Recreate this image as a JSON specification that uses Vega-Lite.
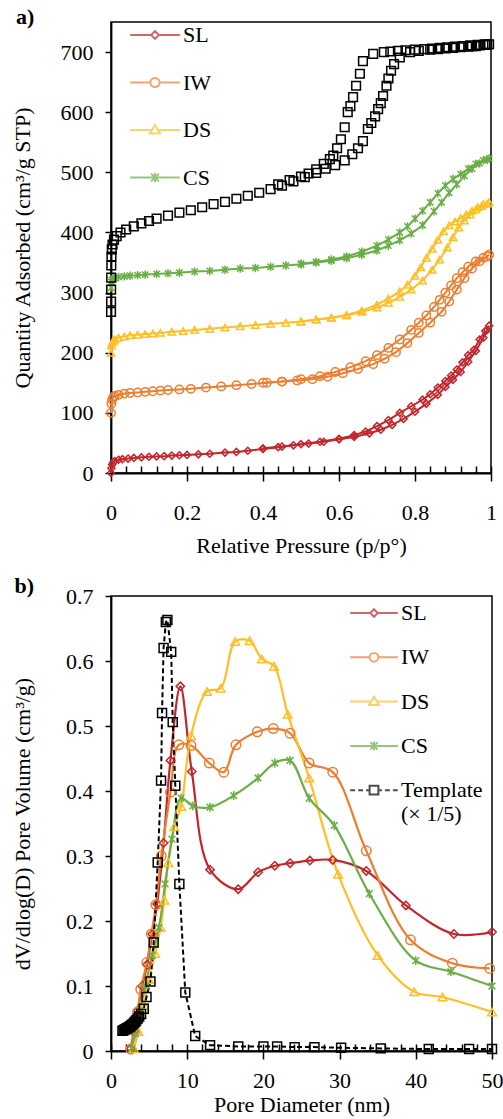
{
  "$schema": "https://vega.github.io/schema/vega-lite/v6.json",
  "background": "white",
  "padding": {"left": 10, "top": 5, "right": 5, "bottom": 2},
  "bounds": "flush",
  "spacing": 123,
  "config": {
    "font": "Liberation Serif",
    "view": {"stroke": "black", "strokeWidth": 1.5},
    "axis": {"domainColor": "black", "domainWidth": 1.8, "tickColor": "black", "tickWidth": 1.5, "labelColor": "black", "titleColor": "black", "labelFont": "Liberation Serif", "titleFont": "Liberation Serif", "labelFontSize": 22, "titleFontSize": 22, "titleFontWeight": "normal", "grid": false, "labelFlush": false},
    "legend": {"labelFont": "Liberation Serif", "labelFontSize": 22, "labelColor": "black", "padding": 0, "symbolStrokeWidth": 2, "labelOffset": 4, "symbolFillColor": "transparent"},
    "title": {"font": "Liberation Serif", "fontSize": 22, "fontWeight": "bold", "color": "black", "anchor": "start"}
  },
  "datasets": {
    "iso": [
      {"s":"SL","b":"a","p":0,"q":0},{"s":"SL","b":"a","p":0.001,"q":8},{"s":"SL","b":"a","p":0.003,"q":14},{"s":"SL","b":"a","p":0.006,"q":18},{"s":"SL","b":"a","p":0.01,"q":20},{"s":"SL","b":"a","p":0.02,"q":22},{"s":"SL","b":"a","p":0.03,"q":23},{"s":"SL","b":"a","p":0.045,"q":24},{"s":"SL","b":"a","p":0.06,"q":25},{"s":"SL","b":"a","p":0.08,"q":26},{"s":"SL","b":"a","p":0.1,"q":27},{"s":"SL","b":"a","p":0.12,"q":27.5},{"s":"SL","b":"a","p":0.14,"q":28},{"s":"SL","b":"a","p":0.16,"q":29},{"s":"SL","b":"a","p":0.18,"q":29.5},{"s":"SL","b":"a","p":0.2,"q":30},{"s":"SL","b":"a","p":0.23,"q":31},{"s":"SL","b":"a","p":0.26,"q":32},{"s":"SL","b":"a","p":0.3,"q":34},{"s":"SL","b":"a","p":0.33,"q":35},{"s":"SL","b":"a","p":0.36,"q":37},{"s":"SL","b":"a","p":0.4,"q":40},{"s":"SL","b":"a","p":0.44,"q":43},{"s":"SL","b":"a","p":0.48,"q":46},{"s":"SL","b":"a","p":0.52,"q":49},{"s":"SL","b":"a","p":0.56,"q":52},{"s":"SL","b":"a","p":0.6,"q":56},{"s":"SL","b":"a","p":0.64,"q":60},{"s":"SL","b":"a","p":0.68,"q":66},{"s":"SL","b":"a","p":0.71,"q":72},{"s":"SL","b":"a","p":0.74,"q":80},{"s":"SL","b":"a","p":0.77,"q":90},{"s":"SL","b":"a","p":0.8,"q":102},{"s":"SL","b":"a","p":0.83,"q":115},{"s":"SL","b":"a","p":0.86,"q":130},{"s":"SL","b":"a","p":0.88,"q":143},{"s":"SL","b":"a","p":0.9,"q":155},{"s":"SL","b":"a","p":0.92,"q":168},{"s":"SL","b":"a","p":0.94,"q":185},{"s":"SL","b":"a","p":0.96,"q":203},{"s":"SL","b":"a","p":0.98,"q":225},{"s":"SL","b":"a","p":0.99,"q":238},{"s":"SL","b":"a","p":0.995,"q":245},
      {"s":"SL","b":"d","p":0.985,"q":236},{"s":"SL","b":"d","p":0.97,"q":222},{"s":"SL","b":"d","p":0.955,"q":205},{"s":"SL","b":"d","p":0.94,"q":196},{"s":"SL","b":"d","p":0.925,"q":184},{"s":"SL","b":"d","p":0.91,"q":172},{"s":"SL","b":"d","p":0.895,"q":162},{"s":"SL","b":"d","p":0.88,"q":153},{"s":"SL","b":"d","p":0.86,"q":142},{"s":"SL","b":"d","p":0.84,"q":131},{"s":"SL","b":"d","p":0.82,"q":122},{"s":"SL","b":"d","p":0.79,"q":111},{"s":"SL","b":"d","p":0.76,"q":100},{"s":"SL","b":"d","p":0.73,"q":88},{"s":"SL","b":"d","p":0.7,"q":78},{"s":"SL","b":"d","p":0.67,"q":69},{"s":"SL","b":"d","p":0.64,"q":63},{"s":"SL","b":"d","p":0.6,"q":57},{"s":"SL","b":"d","p":0.55,"q":52},{"s":"SL","b":"d","p":0.5,"q":48},{"s":"SL","b":"d","p":0.45,"q":44},{"s":"SL","b":"d","p":0.4,"q":41},
      {"s":"IW","b":"a","p":0,"q":100},{"s":"IW","b":"a","p":0.001,"q":115},{"s":"IW","b":"a","p":0.003,"q":122},{"s":"IW","b":"a","p":0.006,"q":126},{"s":"IW","b":"a","p":0.01,"q":128},{"s":"IW","b":"a","p":0.02,"q":130},{"s":"IW","b":"a","p":0.035,"q":132},{"s":"IW","b":"a","p":0.05,"q":133},{"s":"IW","b":"a","p":0.07,"q":134},{"s":"IW","b":"a","p":0.09,"q":135},{"s":"IW","b":"a","p":0.11,"q":136},{"s":"IW","b":"a","p":0.13,"q":137},{"s":"IW","b":"a","p":0.15,"q":138},{"s":"IW","b":"a","p":0.18,"q":139},{"s":"IW","b":"a","p":0.21,"q":140},{"s":"IW","b":"a","p":0.25,"q":142},{"s":"IW","b":"a","p":0.29,"q":144},{"s":"IW","b":"a","p":0.33,"q":146},{"s":"IW","b":"a","p":0.37,"q":148},{"s":"IW","b":"a","p":0.41,"q":150},{"s":"IW","b":"a","p":0.45,"q":152},{"s":"IW","b":"a","p":0.49,"q":154},{"s":"IW","b":"a","p":0.53,"q":156},{"s":"IW","b":"a","p":0.57,"q":160},{"s":"IW","b":"a","p":0.61,"q":166},{"s":"IW","b":"a","p":0.65,"q":173},{"s":"IW","b":"a","p":0.69,"q":181},{"s":"IW","b":"a","p":0.72,"q":190},{"s":"IW","b":"a","p":0.75,"q":201},{"s":"IW","b":"a","p":0.78,"q":216},{"s":"IW","b":"a","p":0.81,"q":233},{"s":"IW","b":"a","p":0.84,"q":250},{"s":"IW","b":"a","p":0.87,"q":268},{"s":"IW","b":"a","p":0.89,"q":285},{"s":"IW","b":"a","p":0.91,"q":305},{"s":"IW","b":"a","p":0.93,"q":324},{"s":"IW","b":"a","p":0.95,"q":340},{"s":"IW","b":"a","p":0.97,"q":352},{"s":"IW","b":"a","p":0.99,"q":360},{"s":"IW","b":"a","p":0.995,"q":363},
      {"s":"IW","b":"d","p":0.98,"q":358},{"s":"IW","b":"d","p":0.96,"q":352},{"s":"IW","b":"d","p":0.94,"q":343},{"s":"IW","b":"d","p":0.925,"q":334},{"s":"IW","b":"d","p":0.91,"q":324},{"s":"IW","b":"d","p":0.895,"q":312},{"s":"IW","b":"d","p":0.88,"q":300},{"s":"IW","b":"d","p":0.865,"q":288},{"s":"IW","b":"d","p":0.85,"q":276},{"s":"IW","b":"d","p":0.83,"q":262},{"s":"IW","b":"d","p":0.81,"q":250},{"s":"IW","b":"d","p":0.79,"q":238},{"s":"IW","b":"d","p":0.76,"q":222},{"s":"IW","b":"d","p":0.73,"q":208},{"s":"IW","b":"d","p":0.7,"q":196},{"s":"IW","b":"d","p":0.67,"q":186},{"s":"IW","b":"d","p":0.63,"q":176},{"s":"IW","b":"d","p":0.59,"q":168},{"s":"IW","b":"d","p":0.55,"q":161},{"s":"IW","b":"d","p":0.5,"q":156},{"s":"IW","b":"d","p":0.45,"q":152},{"s":"IW","b":"d","p":0.4,"q":150},
      {"s":"DS","b":"a","p":0,"q":200},{"s":"DS","b":"a","p":0.001,"q":212},{"s":"DS","b":"a","p":0.003,"q":217},{"s":"DS","b":"a","p":0.006,"q":220},{"s":"DS","b":"a","p":0.01,"q":222},{"s":"DS","b":"a","p":0.02,"q":225},{"s":"DS","b":"a","p":0.035,"q":227},{"s":"DS","b":"a","p":0.05,"q":229},{"s":"DS","b":"a","p":0.07,"q":230},{"s":"DS","b":"a","p":0.09,"q":231},{"s":"DS","b":"a","p":0.11,"q":232},{"s":"DS","b":"a","p":0.13,"q":233},{"s":"DS","b":"a","p":0.16,"q":235},{"s":"DS","b":"a","p":0.19,"q":236},{"s":"DS","b":"a","p":0.22,"q":238},{"s":"DS","b":"a","p":0.26,"q":240},{"s":"DS","b":"a","p":0.3,"q":242},{"s":"DS","b":"a","p":0.34,"q":244},{"s":"DS","b":"a","p":0.38,"q":246},{"s":"DS","b":"a","p":0.42,"q":248},{"s":"DS","b":"a","p":0.46,"q":250},{"s":"DS","b":"a","p":0.5,"q":252},{"s":"DS","b":"a","p":0.54,"q":255},{"s":"DS","b":"a","p":0.58,"q":258},{"s":"DS","b":"a","p":0.62,"q":262},{"s":"DS","b":"a","p":0.66,"q":268},{"s":"DS","b":"a","p":0.7,"q":275},{"s":"DS","b":"a","p":0.73,"q":283},{"s":"DS","b":"a","p":0.76,"q":293},{"s":"DS","b":"a","p":0.79,"q":305},{"s":"DS","b":"a","p":0.82,"q":320},{"s":"DS","b":"a","p":0.845,"q":338},{"s":"DS","b":"a","p":0.865,"q":355},{"s":"DS","b":"a","p":0.885,"q":375},{"s":"DS","b":"a","p":0.9,"q":392},{"s":"DS","b":"a","p":0.915,"q":408},{"s":"DS","b":"a","p":0.93,"q":420},{"s":"DS","b":"a","p":0.945,"q":430},{"s":"DS","b":"a","p":0.96,"q":438},{"s":"DS","b":"a","p":0.975,"q":444},{"s":"DS","b":"a","p":0.99,"q":448},{"s":"DS","b":"a","p":0.995,"q":450},
      {"s":"DS","b":"d","p":0.98,"q":447},{"s":"DS","b":"d","p":0.965,"q":442},{"s":"DS","b":"d","p":0.95,"q":436},{"s":"DS","b":"d","p":0.935,"q":430},{"s":"DS","b":"d","p":0.92,"q":424},{"s":"DS","b":"d","p":0.905,"q":418},{"s":"DS","b":"d","p":0.89,"q":412},{"s":"DS","b":"d","p":0.875,"q":402},{"s":"DS","b":"d","p":0.86,"q":388},{"s":"DS","b":"d","p":0.845,"q":373},{"s":"DS","b":"d","p":0.83,"q":358},{"s":"DS","b":"d","p":0.815,"q":342},{"s":"DS","b":"d","p":0.8,"q":328},{"s":"DS","b":"d","p":0.78,"q":313},{"s":"DS","b":"d","p":0.76,"q":302},{"s":"DS","b":"d","p":0.73,"q":290},{"s":"DS","b":"d","p":0.7,"q":280},{"s":"DS","b":"d","p":0.66,"q":270},{"s":"DS","b":"d","p":0.62,"q":263},{"s":"DS","b":"d","p":0.58,"q":258},{"s":"DS","b":"d","p":0.54,"q":255},{"s":"DS","b":"d","p":0.5,"q":252},
      {"s":"CS","b":"a","p":0,"q":308},{"s":"CS","b":"a","p":0.001,"q":318},{"s":"CS","b":"a","p":0.003,"q":321},{"s":"CS","b":"a","p":0.006,"q":323},{"s":"CS","b":"a","p":0.01,"q":324},{"s":"CS","b":"a","p":0.02,"q":326},{"s":"CS","b":"a","p":0.035,"q":327},{"s":"CS","b":"a","p":0.05,"q":328},{"s":"CS","b":"a","p":0.07,"q":329},{"s":"CS","b":"a","p":0.09,"q":330},{"s":"CS","b":"a","p":0.12,"q":331},{"s":"CS","b":"a","p":0.15,"q":332},{"s":"CS","b":"a","p":0.18,"q":333},{"s":"CS","b":"a","p":0.22,"q":335},{"s":"CS","b":"a","p":0.26,"q":336},{"s":"CS","b":"a","p":0.3,"q":338},{"s":"CS","b":"a","p":0.34,"q":340},{"s":"CS","b":"a","p":0.38,"q":341},{"s":"CS","b":"a","p":0.42,"q":343},{"s":"CS","b":"a","p":0.46,"q":345},{"s":"CS","b":"a","p":0.5,"q":347},{"s":"CS","b":"a","p":0.54,"q":350},{"s":"CS","b":"a","p":0.58,"q":353},{"s":"CS","b":"a","p":0.62,"q":357},{"s":"CS","b":"a","p":0.66,"q":363},{"s":"CS","b":"a","p":0.7,"q":370},{"s":"CS","b":"a","p":0.73,"q":378},{"s":"CS","b":"a","p":0.76,"q":387},{"s":"CS","b":"a","p":0.79,"q":398},{"s":"CS","b":"a","p":0.82,"q":412},{"s":"CS","b":"a","p":0.85,"q":435},{"s":"CS","b":"a","p":0.87,"q":450},{"s":"CS","b":"a","p":0.89,"q":466},{"s":"CS","b":"a","p":0.91,"q":480},{"s":"CS","b":"a","p":0.93,"q":494},{"s":"CS","b":"a","p":0.95,"q":506},{"s":"CS","b":"a","p":0.97,"q":515},{"s":"CS","b":"a","p":0.99,"q":521},{"s":"CS","b":"a","p":0.995,"q":523},
      {"s":"CS","b":"d","p":0.98,"q":520},{"s":"CS","b":"d","p":0.96,"q":514},{"s":"CS","b":"d","p":0.94,"q":506},{"s":"CS","b":"d","p":0.92,"q":497},{"s":"CS","b":"d","p":0.9,"q":489},{"s":"CS","b":"d","p":0.88,"q":478},{"s":"CS","b":"d","p":0.86,"q":465},{"s":"CS","b":"d","p":0.84,"q":450},{"s":"CS","b":"d","p":0.82,"q":436},{"s":"CS","b":"d","p":0.8,"q":423},{"s":"CS","b":"d","p":0.78,"q":410},{"s":"CS","b":"d","p":0.76,"q":400},{"s":"CS","b":"d","p":0.73,"q":388},{"s":"CS","b":"d","p":0.7,"q":378},{"s":"CS","b":"d","p":0.66,"q":368},{"s":"CS","b":"d","p":0.62,"q":360},{"s":"CS","b":"d","p":0.58,"q":355},{"s":"CS","b":"d","p":0.54,"q":351},{"s":"CS","b":"d","p":0.5,"q":348},
      {"s":"Template","b":"a","p":0.0001,"q":268},{"s":"Template","b":"a","p":0.0002,"q":285},{"s":"Template","b":"a","p":0.0003,"q":305},{"s":"Template","b":"a","p":0.0005,"q":325},{"s":"Template","b":"a","p":0.0008,"q":345},{"s":"Template","b":"a","p":0.0012,"q":360},{"s":"Template","b":"a","p":0.002,"q":372},{"s":"Template","b":"a","p":0.004,"q":380},{"s":"Template","b":"a","p":0.008,"q":388},{"s":"Template","b":"a","p":0.015,"q":394},{"s":"Template","b":"a","p":0.025,"q":400},{"s":"Template","b":"a","p":0.04,"q":405},{"s":"Template","b":"a","p":0.06,"q":410},{"s":"Template","b":"a","p":0.08,"q":415},{"s":"Template","b":"a","p":0.1,"q":419},{"s":"Template","b":"a","p":0.12,"q":423},{"s":"Template","b":"a","p":0.15,"q":428},{"s":"Template","b":"a","p":0.18,"q":433},{"s":"Template","b":"a","p":0.21,"q":437},{"s":"Template","b":"a","p":0.24,"q":442},{"s":"Template","b":"a","p":0.27,"q":447},{"s":"Template","b":"a","p":0.3,"q":451},{"s":"Template","b":"a","p":0.33,"q":456},{"s":"Template","b":"a","p":0.36,"q":461},{"s":"Template","b":"a","p":0.39,"q":466},{"s":"Template","b":"a","p":0.42,"q":472},{"s":"Template","b":"a","p":0.45,"q":478},{"s":"Template","b":"a","p":0.48,"q":485},{"s":"Template","b":"a","p":0.51,"q":492},{"s":"Template","b":"a","p":0.54,"q":499},{"s":"Template","b":"a","p":0.565,"q":506},{"s":"Template","b":"a","p":0.59,"q":512},{"s":"Template","b":"a","p":0.615,"q":520},{"s":"Template","b":"a","p":0.635,"q":530},{"s":"Template","b":"a","p":0.65,"q":540},{"s":"Template","b":"a","p":0.663,"q":552},{"s":"Template","b":"a","p":0.676,"q":572},{"s":"Template","b":"a","p":0.685,"q":582},{"s":"Template","b":"a","p":0.695,"q":593},{"s":"Template","b":"a","p":0.703,"q":605},{"s":"Template","b":"a","p":0.71,"q":615},{"s":"Template","b":"a","p":0.716,"q":627},{"s":"Template","b":"a","p":0.725,"q":644},{"s":"Template","b":"a","p":0.73,"q":656},{"s":"Template","b":"a","p":0.737,"q":669},{"s":"Template","b":"a","p":0.745,"q":680},{"s":"Template","b":"a","p":0.76,"q":691},{"s":"Template","b":"a","p":0.787,"q":700},{"s":"Template","b":"a","p":0.81,"q":702},{"s":"Template","b":"a","p":0.84,"q":704},{"s":"Template","b":"a","p":0.86,"q":705},{"s":"Template","b":"a","p":0.88,"q":706},{"s":"Template","b":"a","p":0.9,"q":707},{"s":"Template","b":"a","p":0.92,"q":708},{"s":"Template","b":"a","p":0.94,"q":709},{"s":"Template","b":"a","p":0.95,"q":710},{"s":"Template","b":"a","p":0.96,"q":710},{"s":"Template","b":"a","p":0.97,"q":711},{"s":"Template","b":"a","p":0.98,"q":712},{"s":"Template","b":"a","p":0.99,"q":712},{"s":"Template","b":"a","p":0.995,"q":713},
      {"s":"Template","b":"d","p":0.985,"q":713},{"s":"Template","b":"d","p":0.965,"q":712},{"s":"Template","b":"d","p":0.945,"q":711},{"s":"Template","b":"d","p":0.925,"q":710},{"s":"Template","b":"d","p":0.905,"q":709},{"s":"Template","b":"d","p":0.885,"q":708},{"s":"Template","b":"d","p":0.865,"q":707},{"s":"Template","b":"d","p":0.845,"q":706},{"s":"Template","b":"d","p":0.825,"q":705},{"s":"Template","b":"d","p":0.8,"q":704},{"s":"Template","b":"d","p":0.775,"q":703},{"s":"Template","b":"d","p":0.755,"q":702},{"s":"Template","b":"d","p":0.735,"q":701},{"s":"Template","b":"d","p":0.718,"q":700},{"s":"Template","b":"d","p":0.69,"q":697},{"s":"Template","b":"d","p":0.663,"q":685},{"s":"Template","b":"d","p":0.655,"q":664},{"s":"Template","b":"d","p":0.645,"q":644},{"s":"Template","b":"d","p":0.637,"q":625},{"s":"Template","b":"d","p":0.63,"q":610},{"s":"Template","b":"d","p":0.623,"q":600},{"s":"Template","b":"d","p":0.615,"q":575},{"s":"Template","b":"d","p":0.605,"q":555},{"s":"Template","b":"d","p":0.595,"q":540},{"s":"Template","b":"d","p":0.585,"q":528},{"s":"Template","b":"d","p":0.576,"q":522},{"s":"Template","b":"d","p":0.56,"q":514},{"s":"Template","b":"d","p":0.54,"q":505},{"s":"Template","b":"d","p":0.52,"q":498},{"s":"Template","b":"d","p":0.5,"q":493},{"s":"Template","b":"d","p":0.47,"q":487},{"s":"Template","b":"d","p":0.44,"q":480}
    ],
    "psd": [
      {"s":"SL","d":2.6,"v":0.004},{"s":"SL","d":3.0,"v":0.03},{"s":"SL","d":3.5,"v":0.062},{"s":"SL","d":4.1,"v":0.1},{"s":"SL","d":4.75,"v":0.133},{"s":"SL","d":5.4,"v":0.18},{"s":"SL","d":6.05,"v":0.226},{"s":"SL","d":6.9,"v":0.32},{"s":"SL","d":7.8,"v":0.447},{"s":"SL","d":9.1,"v":0.561},{"s":"SL","d":10.6,"v":0.43},{"s":"SL","d":13.0,"v":0.279},{"s":"SL","d":16.7,"v":0.249},{"s":"SL","d":19.3,"v":0.275},{"s":"SL","d":21.5,"v":0.285},{"s":"SL","d":23.5,"v":0.289},{"s":"SL","d":26.1,"v":0.293},{"s":"SL","d":29.1,"v":0.294},{"s":"SL","d":33.5,"v":0.277},{"s":"SL","d":38.7,"v":0.224},{"s":"SL","d":45,"v":0.18},{"s":"SL","d":50,"v":0.183},
      {"s":"IW","d":2.6,"v":0.003},{"s":"IW","d":3.1,"v":0.03},{"s":"IW","d":3.5,"v":0.06},{"s":"IW","d":3.9,"v":0.095},{"s":"IW","d":4.7,"v":0.136},{"s":"IW","d":5.3,"v":0.18},{"s":"IW","d":5.9,"v":0.225},{"s":"IW","d":6.6,"v":0.3},{"s":"IW","d":7.8,"v":0.398},{"s":"IW","d":8.9,"v":0.471},{"s":"IW","d":10.5,"v":0.47},{"s":"IW","d":12.9,"v":0.443},{"s":"IW","d":14.8,"v":0.429},{"s":"IW","d":16.4,"v":0.471},{"s":"IW","d":19.2,"v":0.491},{"s":"IW","d":21.3,"v":0.496},{"s":"IW","d":23.5,"v":0.489},{"s":"IW","d":26.0,"v":0.443},{"s":"IW","d":29.1,"v":0.429},{"s":"IW","d":33.5,"v":0.308},{"s":"IW","d":39.3,"v":0.171},{"s":"IW","d":44.8,"v":0.135},{"s":"IW","d":49.7,"v":0.127},
      {"s":"DS","d":3.0,"v":0.004},{"s":"DS","d":3.6,"v":0.03},{"s":"DS","d":4.3,"v":0.07},{"s":"DS","d":5.0,"v":0.11},{"s":"DS","d":5.8,"v":0.15},{"s":"DS","d":6.5,"v":0.19},{"s":"DS","d":7.0,"v":0.232},{"s":"DS","d":7.5,"v":0.29},{"s":"DS","d":8.3,"v":0.345},{"s":"DS","d":9.2,"v":0.376},{"s":"DS","d":10.5,"v":0.485},{"s":"DS","d":12.6,"v":0.553},{"s":"DS","d":14.4,"v":0.558},{"s":"DS","d":16.3,"v":0.63},{"s":"DS","d":18.2,"v":0.631},{"s":"DS","d":19.8,"v":0.603},{"s":"DS","d":21.4,"v":0.592},{"s":"DS","d":23.2,"v":0.518},{"s":"DS","d":26.0,"v":0.42},{"s":"DS","d":29.8,"v":0.272},{"s":"DS","d":35.0,"v":0.147},{"s":"DS","d":39.8,"v":0.091},{"s":"DS","d":43.5,"v":0.083},{"s":"DS","d":50,"v":0.06},
      {"s":"CS","d":2.7,"v":0.004},{"s":"CS","d":3.2,"v":0.027},{"s":"CS","d":3.8,"v":0.062},{"s":"CS","d":4.5,"v":0.1},{"s":"CS","d":5.4,"v":0.147},{"s":"CS","d":6.3,"v":0.19},{"s":"CS","d":7.1,"v":0.257},{"s":"CS","d":8.0,"v":0.326},{"s":"CS","d":9.2,"v":0.389},{"s":"CS","d":10.75,"v":0.377},{"s":"CS","d":13.0,"v":0.375},{"s":"CS","d":16.1,"v":0.393},{"s":"CS","d":19.3,"v":0.42},{"s":"CS","d":21.5,"v":0.443},{"s":"CS","d":23.5,"v":0.447},{"s":"CS","d":26.0,"v":0.389},{"s":"CS","d":29.3,"v":0.347},{"s":"CS","d":33.9,"v":0.242},{"s":"CS","d":40,"v":0.139},{"s":"CS","d":44.6,"v":0.122},{"s":"CS","d":50,"v":0.1},
      {"s":"Template","d":1.5,"v":0.031},{"s":"Template","d":1.65,"v":0.032},{"s":"Template","d":1.8,"v":0.033},{"s":"Template","d":1.95,"v":0.034},{"s":"Template","d":2.1,"v":0.035},{"s":"Template","d":2.25,"v":0.036},{"s":"Template","d":2.4,"v":0.037},{"s":"Template","d":2.55,"v":0.038},{"s":"Template","d":2.7,"v":0.04},{"s":"Template","d":2.85,"v":0.041},{"s":"Template","d":3.0,"v":0.043},{"s":"Template","d":3.15,"v":0.045},{"s":"Template","d":3.3,"v":0.047},{"s":"Template","d":3.5,"v":0.05},{"s":"Template","d":3.7,"v":0.053},{"s":"Template","d":3.95,"v":0.057},{"s":"Template","d":4.3,"v":0.065},{"s":"Template","d":4.66,"v":0.083},{"s":"Template","d":5.18,"v":0.107},{"s":"Template","d":5.6,"v":0.167},{"s":"Template","d":6.13,"v":0.29},{"s":"Template","d":6.57,"v":0.416},{"s":"Template","d":6.7,"v":0.52},{"s":"Template","d":6.9,"v":0.62},{"s":"Template","d":7.2,"v":0.66},{"s":"Template","d":7.4,"v":0.663},{"s":"Template","d":7.9,"v":0.614},{"s":"Template","d":8.1,"v":0.506},{"s":"Template","d":8.44,"v":0.408},{"s":"Template","d":8.97,"v":0.257},{"s":"Template","d":9.75,"v":0.09},{"s":"Template","d":11.05,"v":0.023},{"s":"Template","d":13.0,"v":0.009},{"s":"Template","d":16.7,"v":0.007},{"s":"Template","d":20.0,"v":0.007},{"s":"Template","d":21.8,"v":0.007},{"s":"Template","d":24.1,"v":0.006},{"s":"Template","d":26.7,"v":0.006},{"s":"Template","d":30.2,"v":0.005},{"s":"Template","d":35.4,"v":0.004},{"s":"Template","d":41.7,"v":0.003},{"s":"Template","d":47.0,"v":0.003},{"s":"Template","d":50,"v":0.003}
    ]
  },
  "vconcat": [
    {
      "width": 380,
      "height": 451,
      "title": {"text": "a)", "offset": -18, "dx": 5},
      "data": {"name": "iso"},
      "resolve": {"axis": {"x": "independent"}},
      "layer": [
        {
          "transform": [{"filter": "datum.s != 'Template'"}],
          "mark": {"type": "line", "strokeWidth": 2},
          "encoding": {
            "x": {"field": "p", "type": "quantitative", "scale": {"domain": [0, 1], "nice": false},
              "axis": {"orient": "bottom", "title": "Relative Pressure (p/p°)", "values": [0,0.2,0.4,0.6,0.8,1], "format": "~g", "tickSize": 8, "labelPadding": 21, "titlePadding": 12, "labelFlush": false}},
            "y": {"field": "q", "type": "quantitative", "scale": {"domain": [0, 750], "nice": false},
              "axis": {"title": "Quantity Adsorbed (cm³/g STP)", "values": [0,100,200,300,400,500,600,700], "tickSize": 6, "labelPadding": 12, "titlePadding": 26}},
            "color": {"field": "s", "type": "nominal", "scale": {"domain": ["SL","IW","DS","CS","Template"], "range": ["#C0272D","#ED7D31","#FFBF26","#6AAE46","#000000"]},
              "legend": {"title": null, "values": ["SL","IW","DS","CS"], "orient": "none", "legendX": 20, "legendY": -11, "symbolSize": 2116, "rowPadding": 12.5}},
            "detail": {"field": "b"}
          }
        },
        {"transform": [{"filter": "datum.s == 'SL'"}], "mark": {"type": "point", "shape": "diamond", "color": "#C0272D", "filled": false, "strokeWidth": 1.5, "size": 50, "opacity": 1},
          "encoding": {"x": {"field": "p", "type": "quantitative", "axis": null}, "y": {"field": "q", "type": "quantitative"}}},
        {"transform": [{"filter": "datum.s == 'IW'"}], "mark": {"type": "point", "shape": "circle", "color": "#ED7D31", "filled": false, "strokeWidth": 1.5, "size": 70, "opacity": 1},
          "encoding": {"x": {"field": "p", "type": "quantitative", "axis": null}, "y": {"field": "q", "type": "quantitative"}}},
        {"transform": [{"filter": "datum.s == 'DS'"}], "mark": {"type": "point", "shape": "triangle-up", "color": "#FFBF26", "filled": false, "strokeWidth": 1.5, "size": 55, "opacity": 1},
          "encoding": {"x": {"field": "p", "type": "quantitative", "axis": null}, "y": {"field": "q", "type": "quantitative"}}},
        {"transform": [{"filter": "datum.s == 'CS'"}], "mark": {"type": "point", "shape": "M0,-1V1M-0.75,-0.75L0.75,0.75M-0.75,0.75L0.75,-0.75", "color": "#6AAE46", "filled": false, "strokeWidth": 1.5, "size": 70, "opacity": 1},
          "encoding": {"x": {"field": "p", "type": "quantitative", "axis": null}, "y": {"field": "q", "type": "quantitative"}}},
        {"transform": [{"filter": "datum.s == 'Template'"}], "mark": {"type": "point", "shape": "square", "color": "#000000", "filled": false, "strokeWidth": 1.5, "size": 75, "opacity": 1},
          "encoding": {"x": {"field": "p", "type": "quantitative", "axis": null}, "y": {"field": "q", "type": "quantitative"}}},
        {
          "transform": [{"filter": "datum.s == 'none'"}],
          "mark": {"type": "point", "filled": false, "strokeWidth": 2, "size": 2116},
          "encoding": {
            "x": {"field": "p", "type": "quantitative",
              "axis": {"orient": "bottom", "values": [0,0.04,0.08,0.12,0.16,0.2,0.24,0.28,0.32,0.36,0.4,0.44,0.48,0.52,0.56,0.6,0.64,0.68,0.72,0.76,0.8,0.84,0.88,0.92,0.96,1], "labels": false, "domain": false, "title": null, "tickSize": -7}},
            "y": {"field": "q", "type": "quantitative"},
            "color": {"field": "s", "type": "nominal",
              "legend": {"title": null, "values": ["SL","IW","DS","CS"], "orient": "none", "legendX": 20, "legendY": -11, "symbolSize": 2116, "rowPadding": 12.5}},
            "shape": {"field": "s", "type": "nominal", "scale": {"domain": ["SL","IW","DS","CS","Template"], "range": [
                "M-1.08,0H-0.17M0.17,0H1.08M0,-0.17L0.17,0L0,0.17L-0.17,0Z",
                "M-1.08,0H-0.2M0.2,0H1.08M0.2,0A0.2,0.2,0,1,1,-0.2,0A0.2,0.2,0,1,1,0.2,0Z",
                "M-1.08,0H-0.12M0.12,0H1.08M0,-0.22L0.22,0.15H-0.22Z",
                "M-1.08,0H1.08M0,-0.2V0.2M-0.17,-0.17L0.17,0.17M-0.17,0.17L0.17,-0.17",
                "M-1.08,0H-0.86M-0.72,0H-0.5M-0.36,0H-0.2M0.2,0H0.36M0.5,0H0.72M0.86,0H1.08M-0.2,-0.2H0.2V0.2H-0.2Z"]},
              "legend": {"title": null, "values": ["SL","IW","DS","CS"], "orient": "none", "legendX": 20, "legendY": -11, "symbolSize": 2116, "rowPadding": 12.5}}
          }
        }
      ]
    },
    {
      "width": 381,
      "height": 455,
      "title": {"text": "b)", "offset": -13, "dx": 3},
      "data": {"name": "psd"},
      "resolve": {"axis": {"x": "independent"}},
      "layer": [
        {
          "transform": [{"filter": "datum.s != 'Template'"}],
          "mark": {"type": "line", "strokeWidth": 2.2, "interpolate": "catmull-rom"},
          "encoding": {
            "x": {"field": "d", "type": "quantitative", "scale": {"domain": [0, 50], "nice": false},
              "axis": {"orient": "bottom", "title": "Pore Diameter (nm)", "values": [0,10,20,30,40,50], "tickSize": 8, "labelPadding": 11, "titlePadding": 3, "labelFlush": false}},
            "y": {"field": "v", "type": "quantitative", "scale": {"domain": [0, 0.7], "nice": false},
              "axis": {"title": "dV/dlog(D) Pore Volume (cm³/g)", "values": [0,0.1,0.2,0.3,0.4,0.5,0.6,0.7], "format": "~g", "tickSize": 6, "labelPadding": 12, "titlePadding": 31}},
            "color": {"field": "s", "type": "nominal", "scale": {"domain": ["SL","IW","DS","CS","Template"], "range": ["#C0272D","#ED7D31","#FFBF26","#6AAE46","#000000"]},
              "legend": {"title": null, "orient": "none", "legendX": 240, "legendY": -6, "symbolSize": 1936, "rowPadding": 10.3, "labelLineHeight": 30, "labelExpr": "datum.label == 'Template' ? ['Template', '(× 1/5)'] : datum.label"}}
          }
        },
        {
          "transform": [{"filter": "datum.s == 'Template'"}],
          "mark": {"type": "line", "strokeWidth": 2, "strokeDash": [5, 3], "color": "black"},
          "encoding": {"x": {"field": "d", "type": "quantitative", "axis": null}, "y": {"field": "v", "type": "quantitative"}}
        },
        {"transform": [{"filter": "datum.s == 'SL'"}], "mark": {"type": "point", "shape": "diamond", "color": "#C0272D", "filled": false, "strokeWidth": 1.5, "size": 70, "opacity": 1},
          "encoding": {"x": {"field": "d", "type": "quantitative", "axis": null}, "y": {"field": "v", "type": "quantitative"}}},
        {"transform": [{"filter": "datum.s == 'IW'"}], "mark": {"type": "point", "shape": "circle", "color": "#ED7D31", "filled": false, "strokeWidth": 1.5, "size": 90, "opacity": 1},
          "encoding": {"x": {"field": "d", "type": "quantitative", "axis": null}, "y": {"field": "v", "type": "quantitative"}}},
        {"transform": [{"filter": "datum.s == 'DS'"}], "mark": {"type": "point", "shape": "triangle-up", "color": "#FFBF26", "filled": false, "strokeWidth": 1.5, "size": 75, "opacity": 1},
          "encoding": {"x": {"field": "d", "type": "quantitative", "axis": null}, "y": {"field": "v", "type": "quantitative"}}},
        {"transform": [{"filter": "datum.s == 'CS'"}], "mark": {"type": "point", "shape": "M0,-1V1M-0.75,-0.75L0.75,0.75M-0.75,0.75L0.75,-0.75", "color": "#6AAE46", "filled": false, "strokeWidth": 1.5, "size": 80, "opacity": 1},
          "encoding": {"x": {"field": "d", "type": "quantitative", "axis": null}, "y": {"field": "v", "type": "quantitative"}}},
        {"transform": [{"filter": "datum.s == 'Template'"}], "mark": {"type": "point", "shape": "square", "color": "#000000", "filled": false, "strokeWidth": 1.5, "size": 80, "opacity": 1},
          "encoding": {"x": {"field": "d", "type": "quantitative", "axis": null}, "y": {"field": "v", "type": "quantitative"}}},
        {
          "transform": [{"filter": "datum.s == 'none'"}],
          "mark": {"type": "point", "filled": false, "strokeWidth": 2, "size": 1936},
          "encoding": {
            "x": {"field": "d", "type": "quantitative",
              "axis": {"orient": "bottom", "values": [0,2,4,6,8,10,12,14,16,18,20,22,24,26,28,30,32,34,36,38,40,42,44,46,48,50], "labels": false, "domain": false, "title": null, "tickSize": -7}},
            "y": {"field": "v", "type": "quantitative"},
            "color": {"field": "s", "type": "nominal",
              "legend": {"title": null, "orient": "none", "legendX": 240, "legendY": -6, "symbolSize": 1936, "rowPadding": 10.3, "labelLineHeight": 30, "labelExpr": "datum.label == 'Template' ? ['Template', '(× 1/5)'] : datum.label"}},
            "shape": {"field": "s", "type": "nominal", "scale": {"domain": ["SL","IW","DS","CS","Template"], "range": [
                "M-1.08,0H-0.17M0.17,0H1.08M0,-0.17L0.17,0L0,0.17L-0.17,0Z",
                "M-1.08,0H-0.2M0.2,0H1.08M0.2,0A0.2,0.2,0,1,1,-0.2,0A0.2,0.2,0,1,1,0.2,0Z",
                "M-1.08,0H-0.12M0.12,0H1.08M0,-0.22L0.22,0.15H-0.22Z",
                "M-1.08,0H1.08M0,-0.2V0.2M-0.17,-0.17L0.17,0.17M-0.17,0.17L0.17,-0.17",
                "M-1.08,0H-0.86M-0.72,0H-0.5M-0.36,0H-0.2M0.2,0H0.36M0.5,0H0.72M0.86,0H1.08M-0.2,-0.2H0.2V0.2H-0.2Z"]},
              "legend": {"title": null, "orient": "none", "legendX": 240, "legendY": -6, "symbolSize": 1936, "rowPadding": 10.3, "labelLineHeight": 30, "labelExpr": "datum.label == 'Template' ? ['Template', '(× 1/5)'] : datum.label"}}
          }
        }
      ]
    }
  ],
  "resolve": {
    "scale": {"color": "independent", "shape": "independent", "x": "independent", "y": "independent"},
    "legend": {"color": "independent", "shape": "independent"}
  }
}
